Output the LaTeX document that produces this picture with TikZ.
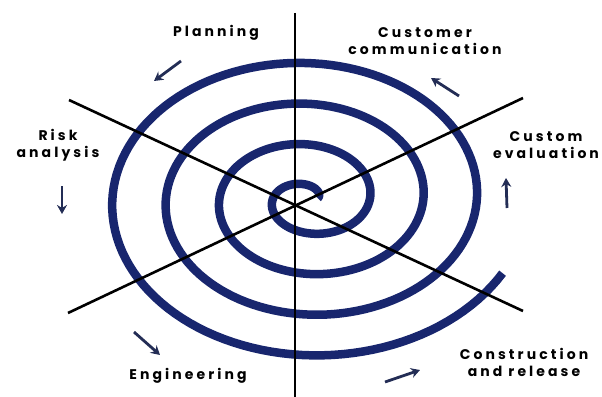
\documentclass[tikz,border=0pt]{standalone}
\usepackage{fontspec}
\setsansfont{Poppins}
\usetikzlibrary{arrows.meta}
\definecolor{spiralblue}{RGB}{24,38,110}
\definecolor{arrowdark}{RGB}{35,45,85}
\begin{document}
\begin{tikzpicture}[x=1pt,y=-1pt,
  spiralline/.style={draw=spiralblue,line width=8.5pt,line cap=butt},
  axisline/.style={draw=black,line width=2.6pt},
  flowarrow/.style={draw=arrowdark,line width=2.8pt,-{Stealth[length=9pt,width=10pt]}},
  lbl/.style={font=\sffamily\bfseries\fontsize{14}{17}\selectfont\addfontfeature{LetterSpace=22},align=center,text=black,inner sep=0pt}]
\useasboundingbox (0,0) rectangle (602,396);
% spiral
\draw[spiralline] plot[domain=10:1413,samples=500,variable=\t]
  ({308+(8.4+0.1486*\t)*cos(\t)},{199-(3.7+0.113*\t)*sin(\t)});
% axes
\coordinate (vtop) at (295,13);
\coordinate (vbot) at (295,398);
\coordinate (atl) at (69,100);
\coordinate (abr) at (523,311);
\coordinate (bbl) at (68,313);
\coordinate (btr) at (523,98);
\draw[axisline] (vtop) -- (vbot);
\draw[axisline] (atl) -- (abr);
\draw[axisline] (bbl) -- (btr);
% labels
\node[lbl] (plan) at (216,33) {Planning};
\node[lbl] (cust) at (425,41) {Customer\\communication};
\node[lbl] (risk) at (58,145) {Risk\\analysis};
\node[lbl] (eval) at (546,145) {Custom\\evaluation};
\node[lbl] (eng) at (188,376) {Engineering};
\node[lbl] (cons) at (524,362) {Construction\\and release};
% arrows
\coordinate (p1) at (181,61); \coordinate (p2) at (154,81);
\coordinate (r1) at (62,186); \coordinate (r2) at (62,214);
\coordinate (e1) at (134,332); \coordinate (e2) at (160,355);
\coordinate (c1) at (385,382); \coordinate (c2) at (420,370);
\coordinate (v1) at (507,208); \coordinate (v2) at (506,178);
\coordinate (m1) at (459,96); \coordinate (m2) at (431,78);
\draw[flowarrow] (p1) -- (p2);
\draw[flowarrow] (r1) -- (r2);
\draw[flowarrow] (e1) -- (e2);
\draw[flowarrow] (c1) -- (c2);
\draw[flowarrow] (v1) -- (v2);
\draw[flowarrow] (m1) -- (m2);
\end{tikzpicture}
\end{document}
